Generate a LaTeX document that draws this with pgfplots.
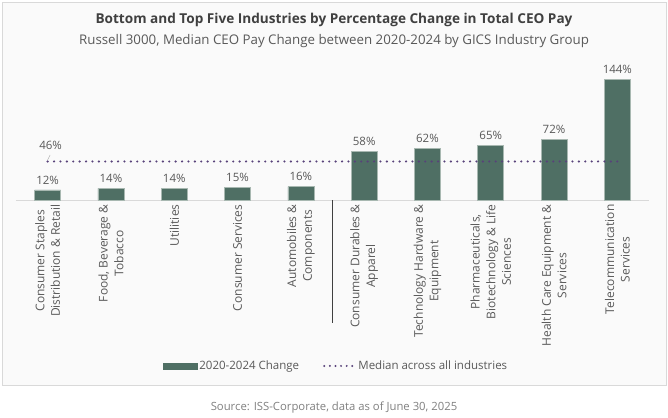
\documentclass[border=0pt]{standalone}
\usepackage{pgfplots}
\pgfplotsset{compat=1.18}
\usepackage{fontspec}
\setmainfont{Open Sans}
\definecolor{barc}{HTML}{4F6F64}
\definecolor{barline}{HTML}{A8B8B1}
\definecolor{medc}{HTML}{58427A}
\definecolor{titc}{HTML}{404040}
\definecolor{labc}{HTML}{595959}
\definecolor{srcc}{HTML}{808080}
\definecolor{panel}{HTML}{FAFAFA}
\definecolor{framec}{HTML}{D9D9D9}
\definecolor{sepc}{HTML}{404040}

\begin{document}
\begin{tikzpicture}
\fill[white] (0pt,0pt) rectangle (668pt,416pt);
\draw[framec, fill=panel] (2pt,31pt) rectangle (666pt,414pt);
\node[font=\bfseries\fontsize{13.6}{15}\selectfont, text=titc] at (334pt,396pt)
  {Bottom and Top Five Industries by Percentage Change in Total CEO Pay};
\node[font=\fontsize{13.3}{15}\selectfont, text=labc] at (334pt,375pt)
  {Russell 3000, Median CEO Pay Change between 2020-2024 by GICS Industry Group};
\node[font=\fontsize{11.3}{13}\selectfont, text=srcc] at (334pt,8pt)
  {Source: ISS-Corporate, data as of June 30, 2025};

\begin{axis}[
  at={(16pt,216pt)}, anchor=south west,
  scale only axis, width=633pt, height=125.7pt,
  xmin=-0.5, xmax=9.5, ymin=0, ymax=150,
  clip=false,
  axis x line*=bottom, axis y line=none,
  x axis line style={draw=framec, line width=0.8pt},
  ytick=\empty,
  xtick={0,...,9},
  major tick length=0pt,
  /pgf/number format/assume math mode=true,
  xticklabels={
    {Consumer Staples\\Distribution \& Retail},
    {Food, Beverage \&\\Tobacco},
    {Utilities},
    {Consumer Services},
    {Automobiles \&\\Components},
    {Consumer Durables \&\\Apparel},
    {Technology Hardware \&\\Equipment},
    {Pharmaceuticals,\\Biotechnology \& Life\\Sciences},
    {Health Care Equipment \&\\Services},
    {Telecommunication\\Services}},
  xticklabel style={rotate=90, anchor=east, align=center, xshift=-1pt,
    font=\fontsize{12}{15.6}\selectfont, text=labc},
  legend columns=2,
  legend style={at={(0.5055,-1.32)}, anchor=center, draw=none, fill=none,
    font=\fontsize{11.5}{13}\selectfont, text=labc,
    /tikz/every even column/.append style={column sep=22pt}},
]
\addplot[ybar, bar width=26pt, fill=barc, draw=barline, line width=0.6pt,
  nodes near coords={\pgfmathprintnumber{\pgfplotspointmeta}\%},
  nodes near coords style={font=\fontsize{11.5}{13}\selectfont, text=labc, yshift=2pt},
  legend image code/.code={\fill[barc] (0pt,-3pt) rectangle (34pt,3pt);}]
  coordinates {(0,12) (1,14) (2,14) (3,15) (4,16) (5,58) (6,62) (7,65) (8,72) (9,144)};
\addlegendentry{2020-2024 Change}
\addplot[medc, line width=2.4pt, dash pattern=on 0pt off 6.4pt, line cap=round,
  legend image code/.code={\draw[medc, line width=2.2pt, dash pattern=on 0pt off 5.6pt, line cap=round] (1pt,0pt) -- (32pt,0pt);}]
  coordinates {(0,46) (9,46)};
\addlegendentry{Median across all industries}
\node[font=\fontsize{11.5}{13}\selectfont, text=labc] at (axis cs:0,46) [yshift=16pt, xshift=3pt] {46\%};
\draw[labc!60, line width=0.4pt] (axis cs:0,46) ++(0pt,1.5pt) -- ++(2.5pt,5pt);
\draw[sepc, line width=1.6pt] (axis cs:4.5,0) -- ++(0pt,-123pt);
\end{axis}
\end{tikzpicture}
\end{document}
